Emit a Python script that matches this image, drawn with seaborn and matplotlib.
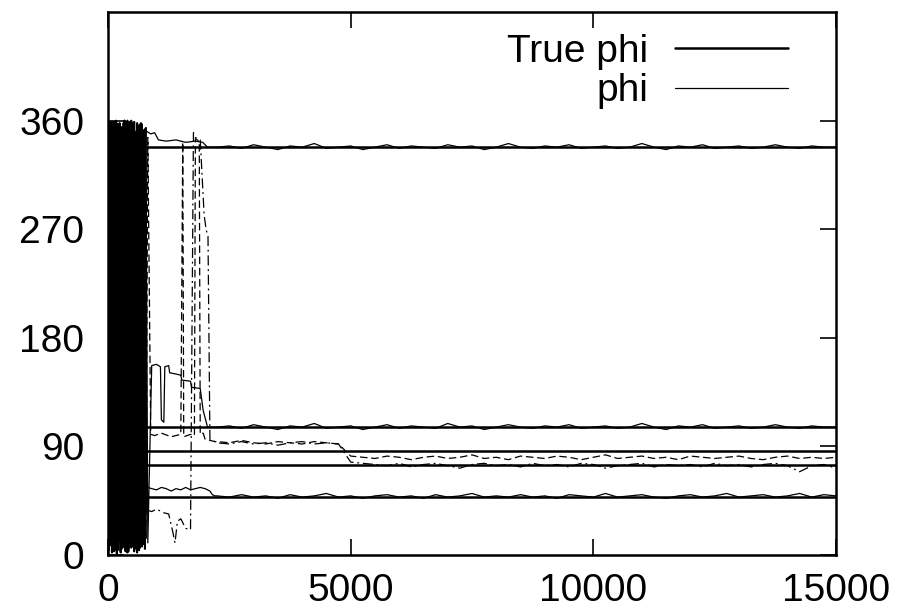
import numpy as np
import pandas as pd
import matplotlib
matplotlib.use("Agg")
import matplotlib.pyplot as plt
import seaborn as sns

sns.set_theme(style="ticks")
plt.rcParams["font.family"] = ["Liberation Sans", "DejaVu Sans"]

# ---- data -------------------------------------------------------------
series_names = ["A", "B", "C", "D", "E"]
true_phi = [338, 106, 86, 75, 48]

x_ticks = [0, 5000, 10000, 15000]
y_ticks = [0, 90, 180, 270, 360]

# early wandering phase, sampled every 20 steps from step 0
chaos_steps = np.arange(0, 800, 20)
A_chaos = [352, 12, 358, 40, 344, 5, 355, 25, 360, 9,
           336, 18, 354, 3, 347, 60, 358, 14, 341, 7,
           353, 31, 359, 10, 346, 22, 356, 6, 349, 45,
           357, 15, 343, 8, 351, 28, 352, 349, 353, 350]
B_chaos = [6, 347, 21, 359, 2, 331, 34, 354, 11, 345,
           4, 357, 27, 340, 8, 352, 17, 360, 3, 338,
           42, 355, 13, 348, 6, 358, 21, 343, 9, 351,
           2, 356, 36, 346, 12, 357, 19, 350, 5, 354]
C_chaos = [340, 15, 356, 8, 349, 37, 359, 4, 333, 20,
           352, 11, 358, 2, 345, 29, 355, 7, 348, 16,
           360, 5, 339, 24, 353, 10, 357, 3, 344, 33,
           358, 12, 350, 6, 355, 18, 346, 9, 352, 14]
D_chaos = [8, 343, 26, 357, 13, 350, 3, 336, 45, 358,
           9, 347, 22, 355, 5, 341, 30, 360, 14, 352,
           2, 346, 19, 356, 38, 344, 7, 359, 25, 349,
           11, 354, 4, 357, 40, 347, 35, 38, 350, 36]
E_chaos = [355, 4, 350, 23, 359, 7, 342, 16, 356, 1,
           348, 35, 357, 10, 337, 20, 353, 6, 359, 28,
           344, 3, 354, 17, 360, 9, 350, 41, 345, 5,
           356, 24, 341, 13, 358, 7, 352, 55, 349, 54]

# settling phase
A_mid_steps = [780, 800, 880, 960, 1040, 1200, 1400, 1600, 1800, 1950, 2050]
A_mid = [350, 351, 349, 350, 344, 343, 344, 342, 343, 342, 338]
B_mid_steps = [780, 820, 900, 1000, 1080, 1100, 1150, 1170, 1250, 1270, 1400,
               1500, 1520, 1700, 1720, 1900, 1960, 2050]
B_mid = [354, 10, 157, 158, 156, 112, 110, 156, 157, 151, 150,
         149, 145, 144, 139, 138, 120, 106]
C_mid_steps = [780, 820, 880, 960, 1100, 1300, 1500, 1540, 1560, 1700, 1780,
               1800, 1880, 1900, 1960, 2000, 2100, 2200]
C_mid = [14, 346, 100, 99, 101, 98, 100, 342, 98, 100, 99,
         345, 343, 100, 101, 96, 95, 94]
D_mid_steps = [780, 820, 900, 1000, 1150, 1250, 1330, 1380, 1430, 1500, 1600,
               1700, 1760, 1800, 1900, 1980, 2020, 2060, 2100, 2200]
D_mid = [36, 37, 36, 38, 35, 34, 20, 10, 28, 30, 22,
         21, 350, 346, 344, 282, 270, 264, 96, 94]
E_mid_steps = [780, 820, 900, 1000, 1100, 1200, 1300, 1400, 1500, 1600, 1700,
               1800, 1900, 2000, 2100, 2150, 2200]
E_mid = [54, 56, 55, 54, 56, 55, 53, 55, 54, 56, 54,
         55, 56, 55, 53, 50, 49]

# converged phase, sampled every 250 steps from step 2250
steady_steps = np.arange(2250, 15001, 250)
A_steady = [338, 339, 337, 340, 338, 336, 339, 338, 341, 337, 338, 339, 336,
            338, 340, 337, 339, 338, 337, 340, 338, 339, 336, 338, 341, 338,
            337, 339, 338, 340, 337, 338, 339, 337, 338, 341, 338, 336, 339,
            338, 340, 337, 338, 339, 337, 338, 340, 338, 337, 339, 338, 338]
B_steady = [106, 107, 105, 108, 106, 104, 107, 106, 109, 105, 106, 107, 104,
            106, 108, 105, 107, 106, 105, 109, 106, 107, 104, 106, 108, 106,
            105, 107, 106, 108, 105, 106, 107, 105, 106, 109, 106, 104, 107,
            106, 108, 105, 106, 107, 105, 106, 108, 106, 105, 107, 106, 106]
C_steady = [94, 93, 95, 93, 92, 94, 93, 92, 94, 93, 92, 82, 81,
            80, 82, 81, 79, 81, 82, 80, 81, 83, 80, 81, 79, 82,
            81, 80, 82, 81, 79, 81, 83, 80, 81, 82, 80, 81, 79,
            82, 81, 80, 81, 82, 80, 79, 81, 82, 80, 81, 80, 81]
D_steady = [93, 92, 94, 92, 93, 91, 93, 94, 92, 93, 92, 77, 76,
            75, 74, 76, 73, 75, 76, 74, 72, 75, 76, 74, 75, 73,
            76, 74, 75, 73, 76, 75, 72, 74, 75, 76, 73, 75, 74,
            75, 73, 76, 74, 75, 73, 75, 76, 74, 69, 74, 75, 72]
E_steady = [49, 48, 50, 48, 49, 47, 50, 48, 49, 51, 48, 49, 47,
            49, 50, 48, 49, 47, 50, 48, 49, 51, 48, 49, 48, 50,
            48, 49, 47, 50, 49, 48, 51, 48, 49, 50, 48, 47, 49,
            50, 48, 49, 51, 48, 49, 50, 48, 49, 51, 48, 50, 49]

chaos = {"A": A_chaos, "B": B_chaos, "C": C_chaos, "D": D_chaos, "E": E_chaos}
mid = {"A": (A_mid_steps, A_mid), "B": (B_mid_steps, B_mid),
       "C": (C_mid_steps, C_mid), "D": (D_mid_steps, D_mid),
       "E": (E_mid_steps, E_mid)}
steady = {"A": A_steady, "B": B_steady, "C": C_steady, "D": D_steady,
          "E": E_steady}

early = pd.concat(
    [pd.DataFrame({"series": n, "step": chaos_steps, "phi": chaos[n]})
     for n in series_names], ignore_index=True)
late = pd.concat(
    [pd.DataFrame({"series": n,
                   "step": np.concatenate([mid[n][0], steady_steps]),
                   "phi": np.concatenate([mid[n][1], steady[n]])})
     for n in series_names], ignore_index=True)

truth = pd.DataFrame({
    "series": np.repeat(series_names, 2),
    "step": [0, 15000] * len(series_names),
    "phi": np.repeat(true_phi, 2),
})

# ---- figure -----------------------------------------------------------
fig = plt.figure(figsize=(9.1, 6.13), dpi=100)
ax = fig.add_axes([0.1187, 0.0946, 0.8, 0.8858])

for name in series_names:
    sub = truth[truth.series == name]
    sns.lineplot(data=sub, x="step", y="phi", ax=ax, color="black",
                 linewidth=1.8, estimator=None, sort=False)

line_styles = {"A": "-", "B": "-", "C": (0, (6, 3)), "D": (0, (8, 3, 1.5, 3)),
               "E": "-"}
for name in series_names:
    sns.lineplot(data=early[early.series == name], x="step", y="phi", ax=ax,
                 color="black", linewidth=1.4, estimator=None, sort=False)
    sns.lineplot(data=late[late.series == name], x="step", y="phi", ax=ax,
                 color="black", linewidth=0.9, linestyle=line_styles[name],
                 estimator=None, sort=False)

ax.set_xlim(0, 15000)
ax.set_ylim(0, 450)
ax.set_xticks(x_ticks)
ax.set_yticks(y_ticks)
ax.set_xticklabels([str(t) for t in x_ticks])
ax.set_yticklabels([str(t) for t in y_ticks])
ax.set_xlabel("")
ax.set_ylabel("")
ax.tick_params(axis="both", direction="in", length=11.5, width=1.2,
               labelsize=28, colors="black", top=True, right=True)
ax.tick_params(axis="x", pad=13)
ax.tick_params(axis="y", pad=17)
for sp in ax.spines.values():
    sp.set_visible(True)
    sp.set_linewidth(1.8)
    sp.set_color("black")

# key in the upper right corner
ax.text(0.742, 0.9075, "True phi", transform=ax.transAxes, ha="right",
        va="baseline", fontsize=28, color="black")
ax.plot([0.779, 0.934], [0.9343, 0.9343], transform=ax.transAxes,
        color="black", linewidth=1.8)
ax.text(0.742, 0.836, "phi", transform=ax.transAxes, ha="right",
        va="baseline", fontsize=28, color="black")
ax.plot([0.779, 0.934], [0.860, 0.860], transform=ax.transAxes,
        color="black", linewidth=0.9)

fig.savefig("out.png", dpi=100, facecolor="white")
